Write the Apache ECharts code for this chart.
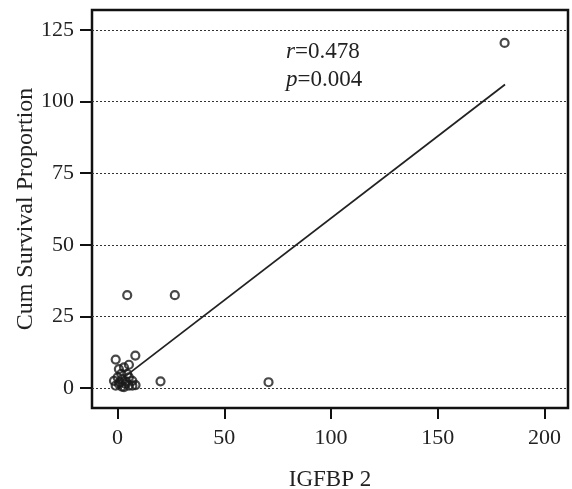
<!DOCTYPE html>
<html>
<head>
<meta charset="utf-8">
<script src="https://cdn.jsdelivr.net/npm/echarts@6/dist/echarts.min.js"></script>
<style>html,body{margin:0;padding:0;background:#fff}#c{width:572px;height:489px}</style>
</head>
<body>
<div id="c"></div>
<script>
const xTicks = [0, 50, 100, 150, 200];
const yTicks = [0, 25, 50, 75, 100, 125];
const points = [
  [4.5, 32.4], [26.8, 32.4], [181.3, 120.5], [70.7, 2.0], [20.1, 2.3],
  [-0.9, 9.9], [8.3, 11.3], [5.3, 8.1],
  [0.6, 6.6], [3.0, 7.2], [1.7, 4.9], [4.5, 4.9], [0.0, 3.7], [2.2, 3.1],
  [5.3, 3.7], [6.9, 2.5], [0.6, 1.4], [3.7, 1.4], [6.9, 0.8], [-0.9, 0.8],
  [5.3, 0.8], [8.4, 1.0], [-1.7, 2.5], [2.0, 0.5], [4.0, 2.2], [1.0, 2.0], [3.0, 0.3]
];
const fitLine = [[4, 4.3], [181.5, 106.0]];
const statR = '0.478';
const statP = '0.004';

const chart = echarts.init(document.getElementById('c'));
const serif = 'Times New Roman, Liberation Serif, serif';
chart.setOption({
  animation: false,
  grid: { left: 92, right: 4, top: 10, bottom: 81, show: true, borderColor: '#111', borderWidth: 2.5, backgroundColor: 'transparent', outerBoundsMode: 'none', containLabel: false },
  xAxis: {
    type: 'value', min: -12, max: 211,
    name: 'IGFBP 2', nameLocation: 'middle', nameGap: 60, nameMoveOverlap: false,
    nameTextStyle: { fontFamily: serif, fontSize: 23, color: '#222' },
    axisLine: { show: false, onZero: false },
    axisTick: { show: true, inside: false, length: 11, customValues: xTicks, lineStyle: { color: '#111', width: 2 } },
    axisLabel: { customValues: xTicks, fontFamily: serif, fontSize: 22, color: '#222', margin: 19 },
    splitLine: { show: false }
  },
  yAxis: {
    type: 'value', min: -7, max: 132,
    name: 'Cum Survival Proportion', nameLocation: 'middle', nameGap: 54, nameMoveOverlap: false,
    nameTextStyle: { fontFamily: serif, fontSize: 24, color: '#222' },
    axisLine: { show: false, onZero: false },
    axisTick: { show: true, inside: false, length: 12, customValues: yTicks, lineStyle: { color: '#111', width: 2 } },
    axisLabel: { customValues: yTicks, fontFamily: serif, fontSize: 22, color: '#222', margin: 18 },
    splitLine: { show: false }
  },
  graphic: [{
    type: 'text', left: 286, top: 40,
    style: {
      text: '{i|r}{n|=' + statR + '}\n{i|p}{n|=' + statP + '}',
      rich: {
        i: { fontFamily: serif, fontStyle: 'italic', fontSize: 23, fill: '#222', lineHeight: 28 },
        n: { fontFamily: serif, fontSize: 23, fill: '#222', lineHeight: 28 }
      }
    }
  }],
  series: [
    {
      type: 'line', data: fitLine, symbol: 'none', silent: true,
      lineStyle: { color: '#222', width: 1.8 },
      markLine: {
        silent: true, symbol: 'none', label: { show: false },
        lineStyle: { color: '#333', type: [2, 2], width: 1 },
        data: yTicks.map(v => ({ yAxis: v }))
      }
    },
    {
      type: 'scatter', data: points, symbol: 'circle', symbolSize: 8,
      itemStyle: { color: 'rgba(255,255,255,0)', borderColor: '#1a1a1a', borderWidth: 2.2 }
    }
  ]
});
</script>
</body>
</html>
